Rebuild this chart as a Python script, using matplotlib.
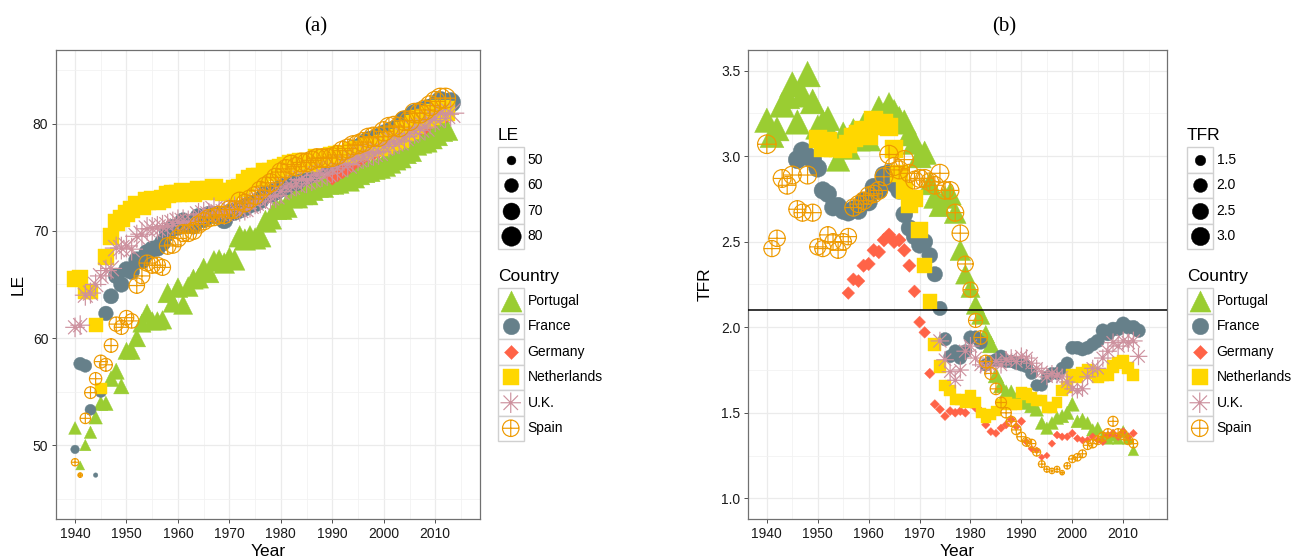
import numpy as np
import matplotlib
matplotlib.use('Agg')
import matplotlib.pyplot as plt
from matplotlib.path import Path
from matplotlib.patches import Rectangle

plt.rcParams['font.family'] = ['Liberation Sans', 'DejaVu Sans']
nan = np.nan

# ---- data ----
years_portugal = np.arange(1940, 2013)
le_portugal = [51.6, 48.1, 50.0, 51.2, 52.6, 53.9, 53.9, 56.2, 56.9, 55.5,
               58.8, 58.8, 60.0, 61.4, 62.3, 61.6, 61.6, 61.7, 64.2, 63.3,
               64.7, 63.1, 64.8, 65.5, 65.6, 66.5, 66.1, 67.2, 67.3, 67.0,
               67.5, 67.3, 69.5, 69.2, 69.5, 69.3, 69.5, 70.9, 71.2, 72.1,
               72.1, 72.3, 73.2, 73.2, 73.5, 73.5, 73.9, 74.2, 74.2, 74.5,
               74.5, 74.6, 75.0, 74.8, 75.1, 75.4, 75.6, 75.7, 75.9, 76.0,
               76.2, 76.5, 76.8, 77.0, 77.4, 77.6, 78.2, 78.4, 78.5, 78.8,
               79.1, 79.5, 79.6]
tfr_portugal = [3.21, 3.12, 3.16, 3.30, 3.35, 3.42, 3.20, 3.36, 3.48, 3.32,
                3.17, 3.20, 3.22, 3.10, 2.98, 3.13, 3.05, 3.15, 3.10, 3.18,
                3.10, 3.20, 3.28, 3.24, 3.30, 3.26, 3.22, 3.20, 3.13, 3.08,
                3.00, 3.02, 2.84, 2.76, 2.71, 2.76, 2.78, 2.67, 2.45, 2.31,
                2.23, 2.13, 2.07, 1.96, 1.90, 1.72, 1.66, 1.62, 1.62, 1.58,
                1.57, 1.56, 1.54, 1.52, 1.44, 1.41, 1.44, 1.47, 1.48, 1.50,
                1.55, 1.45, 1.46, 1.44, 1.40, 1.41, 1.36, 1.35, 1.37, 1.35,
                1.39, 1.35, 1.28]

years_france = np.arange(1940, 2014)
le_france = [49.6, 57.6, 57.4, 53.3, 47.2, 55.0, 62.3, 63.9, 65.8, 65.0,
             66.4, 66.2, 67.3, 67.2, 68.0, 68.3, 68.4, 68.9, 69.8, 70.3,
             70.4, 70.9, 70.6, 70.5, 71.3, 71.1, 71.5, 71.5, 71.4, 71.0,
             71.7, 71.8, 72.0, 72.2, 72.5, 72.6, 72.9, 73.4, 73.5, 73.7,
             74.0, 74.2, 74.6, 74.6, 75.0, 75.2, 75.4, 75.9, 76.2, 76.4,
             76.6, 76.8, 77.1, 77.1, 77.6, 77.7, 78.0, 78.4, 78.5, 78.7,
             79.0, 79.2, 79.4, 79.3, 80.3, 80.3, 80.9, 81.1, 81.2, 81.4,
             81.6, 82.1, 81.9, 82.0]
tfr_france = [nan, nan, nan, nan, nan, nan, 2.98, 3.03, 3.00, 2.98,
              2.93, 2.80, 2.78, 2.70, 2.71, 2.68, 2.67, 2.69, 2.68, 2.74,
              2.73, 2.82, 2.80, 2.89, 2.90, 2.84, 2.80, 2.66, 2.58, 2.53,
              2.48, 2.50, 2.42, 2.31, 2.11, 1.93, 1.83, 1.86, 1.82, 1.86,
              1.94, 1.94, 1.91, 1.78, 1.80, 1.81, 1.83, 1.80, 1.80, 1.79,
              1.78, 1.77, 1.73, 1.66, 1.66, 1.71, 1.73, 1.73, 1.76, 1.79,
              1.88, 1.88, 1.87, 1.88, 1.90, 1.92, 1.98, 1.96, 1.99, 1.99,
              2.02, 2.00, 2.00, 1.98]

# Germany: fertility from 1956, life expectancy only from 1990
years_germany = np.arange(1956, 2013)
le_germany = [nan] * 34 + [75.0, 75.3, 75.6, 75.9, 76.3, 76.6,
                           76.9, 77.2, 77.3, 77.5, 77.9, 78.2, 78.3, 78.4, 78.8, 79.1,
                           79.4, 79.6, 79.7, 80.2, 80.5, 80.8, 80.8]
tfr_germany = [2.20, 2.28, 2.27, 2.36, 2.37, 2.45, 2.44, 2.51, 2.54, 2.50,
               2.51, 2.45, 2.36, 2.21, 2.03, 1.97, 1.73, 1.55, 1.52, 1.48,
               1.51, 1.50, 1.51, 1.50, 1.56, 1.53, 1.51, 1.43, 1.39, 1.38,
               1.41, 1.43, 1.46, 1.42, 1.45, 1.33, 1.29, 1.28, 1.24, 1.25,
               1.32, 1.37, 1.36, 1.36, 1.38, 1.35, 1.34, 1.34, 1.36, 1.34,
               1.33, 1.37, 1.38, 1.36, 1.39, 1.36, 1.38]

years_netherlands = np.arange(1940, 2013)
le_netherlands = [65.5, 65.6, 64.3, 64.3, 61.2, 55.3, 67.6, 69.5, 70.8, 71.2,
                  71.6, 72.0, 72.5, 72.3, 72.8, 72.9, 72.8, 73.0, 73.4, 73.5,
                  73.5, 73.7, 73.6, 73.5, 73.8, 73.7, 73.8, 74.0, 73.7, 73.6,
                  73.7, 73.9, 74.0, 74.5, 74.9, 75.0, 75.0, 75.5, 75.5, 75.8,
                  75.9, 76.1, 76.2, 76.3, 76.4, 76.4, 76.4, 76.8, 76.8, 76.8,
                  77.0, 77.1, 77.2, 77.0, 77.4, 77.5, 77.5, 77.8, 77.9, 77.9,
                  78.1, 78.3, 78.4, 78.6, 79.3, 79.5, 79.9, 80.4, 80.5, 80.8,
                  81.0, 81.3, 81.2]
tfr_netherlands = [nan, nan, nan, nan, nan, nan, nan, nan, nan, nan,
                   3.10, 3.05, 3.09, 3.05, 3.05, 3.04, 3.07, 3.11, 3.13, 3.15,
                   3.12, 3.21, 3.18, 3.19, 3.17, 3.04, 2.90, 2.80, 2.72, 2.75,
                   2.57, 2.36, 2.15, 1.90, 1.77, 1.66, 1.63, 1.58, 1.58, 1.56,
                   1.60, 1.56, 1.50, 1.47, 1.49, 1.51, 1.55, 1.56, 1.55, 1.55,
                   1.62, 1.61, 1.59, 1.57, 1.57, 1.53, 1.53, 1.56, 1.63, 1.65,
                   1.72, 1.71, 1.73, 1.75, 1.73, 1.71, 1.72, 1.72, 1.77, 1.79,
                   1.80, 1.76, 1.72]

years_uk = np.arange(1940, 2014)
le_uk = [61.0, 61.2, 64.0, 64.2, 65.0, 65.8, 66.3, 66.5, 68.4, 68.4,
         68.6, 68.3, 69.5, 69.7, 70.2, 70.2, 70.3, 70.4, 70.5, 70.7,
         70.9, 70.9, 70.8, 70.8, 71.5, 71.6, 71.5, 72.0, 71.7, 71.7,
         71.9, 72.1, 72.0, 72.1, 72.4, 72.7, 72.8, 73.2, 73.2, 73.3,
         73.7, 74.1, 74.2, 74.4, 74.8, 74.7, 74.9, 75.2, 75.3, 75.4,
         75.7, 75.9, 76.3, 76.2, 76.7, 76.8, 77.0, 77.2, 77.3, 77.4,
         77.9, 78.1, 78.3, 78.4, 78.8, 79.1, 79.4, 79.6, 79.7, 80.3,
         80.5, 81.0, 80.9, 81.0]
tfr_uk = [nan] * 34 + [1.92, 1.81, 1.74, 1.69, 1.75, 1.86,
                       1.89, 1.82, 1.78, 1.77, 1.77, 1.80, 1.78, 1.81, 1.82, 1.80,
                       1.83, 1.82, 1.79, 1.76, 1.74, 1.71, 1.73, 1.72, 1.71, 1.68,
                       1.64, 1.63, 1.64, 1.71, 1.76, 1.76, 1.82, 1.86, 1.91, 1.89,
                       1.92, 1.91, 1.92, 1.83]

years_spain = np.arange(1940, 2013)
le_spain = [48.4, 47.2, 52.5, 54.9, 56.2, 57.8, 57.5, 59.3, 61.3, 61.0,
            61.9, 61.6, 64.9, 65.8, 67.0, 66.8, 66.8, 66.6, 68.6, 68.7,
            69.3, 69.8, 69.8, 70.0, 70.6, 70.9, 71.2, 71.3, 71.5, 71.5,
            72.0, 72.0, 72.8, 72.6, 73.0, 73.3, 73.8, 74.2, 74.5, 75.0,
            75.5, 75.8, 76.2, 76.0, 76.4, 76.4, 76.6, 76.8, 76.8, 76.8,
            76.9, 77.1, 77.5, 77.7, 78.0, 78.1, 78.3, 78.7, 78.8, 78.8,
            79.3, 79.7, 79.8, 79.7, 80.3, 80.3, 81.0, 81.0, 81.3, 81.7,
            82.1, 82.4, 82.4]
tfr_spain = [3.07, 2.46, 2.52, 2.87, 2.83, 2.89, 2.69, 2.67, 2.89, 2.67,
             2.47, 2.46, 2.54, 2.50, 2.45, 2.50, 2.53, 2.70, 2.72, 2.74,
             2.77, 2.78, 2.80, 2.88, 3.01, 2.94, 2.92, 2.98, 2.90, 2.86,
             2.87, 2.87, 2.85, 2.83, 2.90, 2.80, 2.80, 2.67, 2.55, 2.37,
             2.22, 2.04, 1.94, 1.80, 1.73, 1.64, 1.56, 1.50, 1.45, 1.40,
             1.36, 1.33, 1.32, 1.27, 1.20, 1.17, 1.16, 1.17, 1.15, 1.19,
             1.23, 1.24, 1.26, 1.31, 1.32, 1.34, 1.36, 1.38, 1.45, 1.38,
             1.37, 1.34, 1.32]

countries = ['Portugal', 'France', 'Germany', 'Netherlands', 'U.K.', 'Spain']
le_breaks = [50, 60, 70, 80]
tfr_breaks = [1.5, 2.0, 2.5, 3.0]
replacement_tfr = 2.1

# ---- marker styles ----
M, L = Path.MOVETO, Path.LINETO
star_verts, star_codes = [], []
for a in np.deg2rad([0, 45, 90, 135]):
    star_verts += [(-np.cos(a), -np.sin(a)), (np.cos(a), np.sin(a))]
    star_codes += [M, L]
star_path = Path(star_verts, star_codes)
cross = Path([(-1, 0), (1, 0), (0, -1), (0, 1)], [M, L, M, L])
circle_plus = Path.make_compound_path(Path.unit_circle(), cross)

colors = ['#9ACD32', '#66808A', '#FF6347', '#FFD700', '#CD919E', '#EE9A00']
markers = ['^', 'o', 'D', 's', star_path, circle_plus]
filled = [True, True, True, True, False, False]
factor = [1.28, 1.0, 0.6, 0.98, 1.38, 1.0]

years = [years_portugal, years_france, years_germany, years_netherlands, years_uk, years_spain]
le = [le_portugal, le_france, le_germany, le_netherlands, le_uk, le_spain]
tfr = [tfr_portugal, tfr_france, tfr_germany, tfr_netherlands, tfr_uk, tfr_spain]

PT = 72 / 100.0


def diam(v, lo, hi):
    return 4.5 + 15.5 * np.sqrt((np.asarray(v) - lo) / (hi - lo))


def draw(ax, ax_x, ax_y, m, c, fl, sz, z=3):
    s = (np.asarray(sz) * PT) ** 2
    if fl:
        ax.scatter(ax_x, ax_y, s=s, marker=m, c=c, linewidths=0.3, edgecolors=c, zorder=z)
    else:
        ax.scatter(ax_x, ax_y, s=s, marker=m, facecolors='none', edgecolors=c,
                   linewidths=0.85, zorder=z)


W, H = 1298, 559
fig = plt.figure(figsize=(W / 100, H / 100), dpi=100)


def px_axes(l, t, r, b):
    return fig.add_axes([l / W, 1 - b / H, (r - l) / W, (b - t) / H])


axA = px_axes(56, 50, 480, 519)
axB = px_axes(748, 50, 1167, 519)

panels = [(axA, le, 'LE', (1936.3, 2018.7), (43.1, 86.9), [50, 60, 70, 80], [45, 55, 65, 75, 85]),
          (axB, tfr, 'TFR', (1936.3, 2018.6), (0.879, 3.621), [1.0, 1.5, 2.0, 2.5, 3.0, 3.5],
           [1.25, 1.75, 2.25, 2.75, 3.25])]

for ax, data, name, xl, yl, yt, ymin in panels:
    allv = np.concatenate([np.asarray(d, float) for d in data])
    lo, hi = np.nanmin(allv), np.nanmax(allv)
    for i in range(6):
        v = np.asarray(data[i], float)
        ok = ~np.isnan(v)
        draw(ax, years[i][ok], v[ok], markers[i], colors[i], filled[i],
             diam(v[ok], lo, hi) * factor[i])
    ax.set_xlim(*xl)
    ax.set_ylim(*yl)
    ax.set_xticks(range(1940, 2011, 10))
    ax.set_xticks(range(1945, 2016, 10), minor=True)
    ax.set_yticks(yt)
    ax.set_yticks(ymin, minor=True)
    if name == 'TFR':
        ax.set_yticklabels(['%.1f' % t for t in yt])
    ax.grid(True, which='major', color='#EBEBEB', lw=0.9)
    ax.grid(True, which='minor', color='#F2F2F2', lw=0.6)
    ax.set_axisbelow(True)
    ax.tick_params(which='major', length=3, width=0.6, color='#333333', labelsize=10,
                   labelcolor='#1a1a1a', pad=2.5)
    ax.tick_params(which='minor', length=0)
    for sp in ax.spines.values():
        sp.set_color('#707070')
        sp.set_linewidth(0.9)
    ax.set_xlabel('Year', fontsize=12.5)
    ax.set_ylabel(name, fontsize=12.5)
    ax.xaxis.set_label_coords(0.5, -0.070)
    ax.yaxis.label.set_va('center')
    ax.xaxis.label.set_va('center')

axA.yaxis.set_label_coords((18 - 56) / 424, 0.5)
axB.yaxis.set_label_coords((705 - 748) / 419, 0.5)
axB.axhline(replacement_tfr, color='black', lw=1.1, zorder=5)

# ---- overlay for titles and legends ----
ov = fig.add_axes([0, 0, 1, 1])
ov.set_xlim(0, W)
ov.set_ylim(H, 0)
ov.axis('off')

ov.text(316, 27, '(a)', ha='center', va='center', fontsize=15, family='Liberation Serif')
ov.text(1004, 27, '(b)', ha='center', va='center', fontsize=15, family='Liberation Serif')


def legend(x0, title, labels, sizes, ttl2):
    key = 25.5
    ov.text(x0, 136, title, ha='left', va='center', fontsize=12.5)
    for j, (lab, sz) in enumerate(zip(labels, sizes)):
        yc = 147 + key * j + key / 2
        ov.add_patch(Rectangle((x0, yc - key / 2), key, key, fc='white', ec='#D0D0D0', lw=1))
        draw(ov, [x0 + key / 2], [yc], 'o', 'black', True, [sz], z=4)
        ov.text(x0 + key + 4, yc, lab, ha='left', va='center', fontsize=10)
    ov.text(x0, 277, ttl2, ha='left', va='center', fontsize=12.5)
    for j in range(6):
        yc = 288 + key * j + key / 2
        ov.add_patch(Rectangle((x0, yc - key / 2), key, key, fc='white', ec='#D0D0D0', lw=1))
        sz = 16.5 * factor[j] * (0.9 if j == 4 else 1.0)
        draw(ov, [x0 + key / 2], [yc], markers[j], colors[j], filled[j], [sz], z=4)
        ov.text(x0 + key + 4, yc, countries[j], ha='left', va='center', fontsize=10)


le_all = np.concatenate([np.asarray(d, float) for d in le])
tfr_all = np.concatenate([np.asarray(d, float) for d in tfr])
legend(498, 'LE', [str(b) for b in le_breaks],
       diam(le_breaks, np.nanmin(le_all), np.nanmax(le_all)), 'Country')
legend(1187, 'TFR', ['%.1f' % b for b in tfr_breaks],
       diam(tfr_breaks, np.nanmin(tfr_all), np.nanmax(tfr_all)), 'Country')

fig.savefig('out.png', dpi=100)
